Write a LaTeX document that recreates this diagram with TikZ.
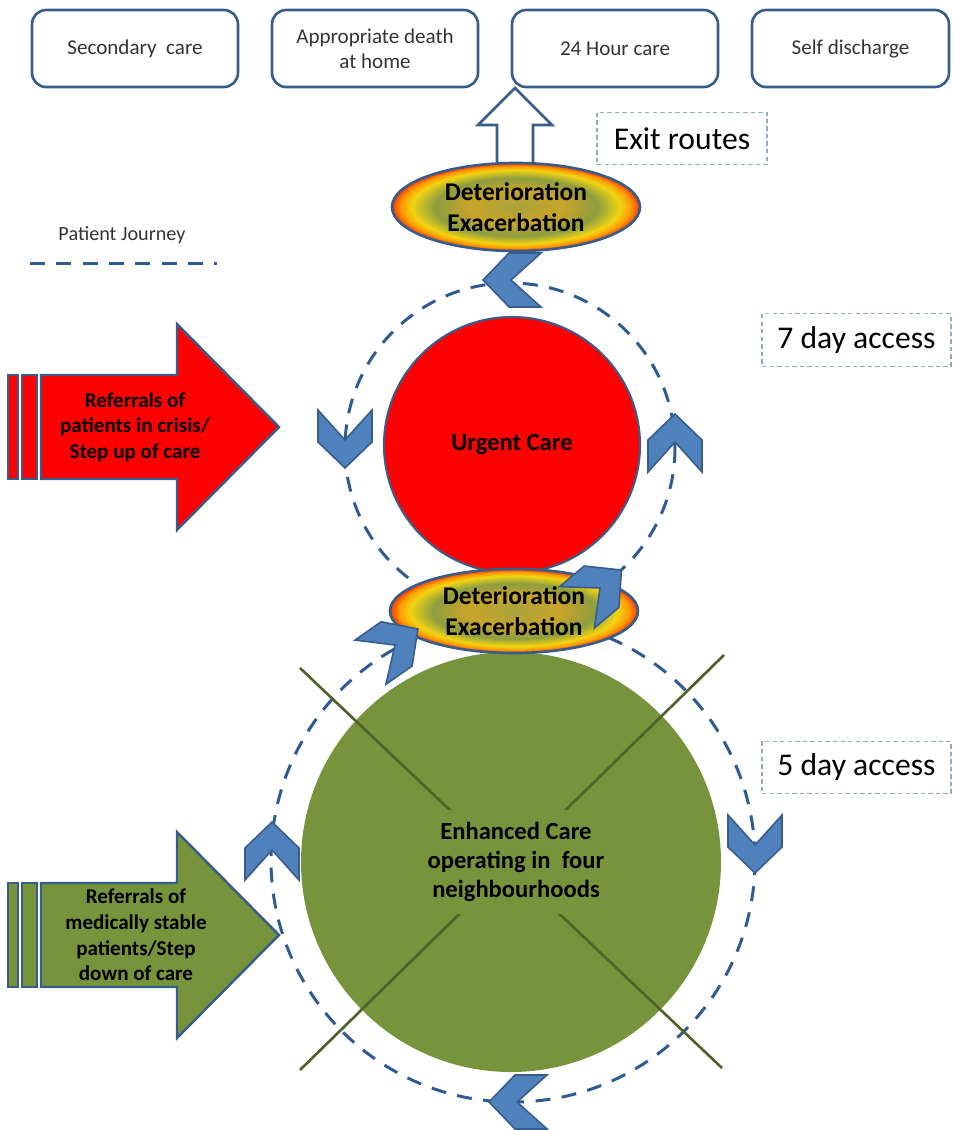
\documentclass[tikz,border=0pt]{standalone}
\usepackage{fontspec}
\setmainfont{Carlito}
\usepackage{tikz}
\usetikzlibrary{calc}
\usepackage{xcolor}
\definecolor{outlineblue}{HTML}{385D8A}
\definecolor{chevblue}{HTML}{4F81BD}
\definecolor{pathblue}{HTML}{2E5A96}
\definecolor{tagblue}{HTML}{8FA8CC}
\definecolor{urgentred}{HTML}{FF0000}
\definecolor{enhgreen}{HTML}{77933C}
\definecolor{crossgreen}{HTML}{4F6228}
\definecolor{detolive}{HTML}{A9A23A}
\definecolor{detgold}{HTML}{C9A42A}
\definecolor{detgreen}{HTML}{8E9E40}
\definecolor{detyellow}{HTML}{F2D412}
\definecolor{detorange}{HTML}{FF9A00}
\definecolor{detred}{HTML}{FF2A00}
\pgfdeclareradialshading{deterioration}{\pgfpoint{0bp}{0bp}}{%
  color(0bp)=(detolive); color(9.5bp)=(detgold); color(16.5bp)=(detgreen);
  color(21bp)=(detyellow); color(23.2bp)=(detorange); color(25.2bp)=(detred);
  color(50bp)=(detred)}
\newcommand{\chevron}[3]{%
  \draw[chev, shift={(#1,#2)}, rotate=#3]
    (-27,-30) -- (0,0) -- (27,-30) -- (27,2) -- (0,28) -- (-27,2) -- cycle;
}
\newcommand{\referral}[2]{%
  \foreach \bx/\bw in {8/10,22/15}{%
    \draw[refarrow, fill=#2] (\bx,{#1-52}) rectangle ({\bx+\bw},{#1+52});
  }%
  \draw[refarrow, fill=#2] (41,{#1-52}) -- (177,{#1-52}) -- (177,{#1-103})
    -- (279,#1) -- (177,{#1+103}) -- (177,{#1+52}) -- (41,{#1+52}) -- cycle;
}

\begin{document}
\begin{tikzpicture}[x=0.02cm, y=-0.02cm,
  exitbox/.style={draw=outlineblue, line width=1.5pt, rounded corners=8pt,
    minimum width=4.12cm, minimum height=1.54cm, align=center,
    font=\fontsize{12}{14.5}\selectfont, text=black!80},
  tagbox/.style={draw=tagblue, line width=0.8pt, dash pattern=on 2.5pt off 1.8pt,
    minimum height=1.05cm, font=\fontsize{18}{21}\selectfont},
  journey/.style={draw=pathblue, line width=1.7pt, dash pattern=on 8.5pt off 6.5pt},
  chev/.style={fill=chevblue, draw=outlineblue, line width=0.9pt},
  refarrow/.style={draw=outlineblue, line width=1.4pt},
  reftext/.style={align=center, font=\fontsize{12}{14.6}\selectfont\bfseries},
  caretext/.style={align=center, font=\fontsize{14}{16.5}\selectfont\bfseries},
  dettext/.style={align=center, font=\fontsize{14.5}{17.5}\selectfont\bfseries}]

  \useasboundingbox (0,0) rectangle (953,1130);

  % exit routes
  \node[exitbox] (secondary) at (135,48.5) {Secondary~ care};
  \node[exitbox] (deathhome) at (375,48.5) {Appropriate death\\at home};
  \node[exitbox] (hourcare) at (615,48.5) {24 Hour care};
  \node[exitbox, minimum width=3.94cm] (selfdis) at (850.5,48.5) {Self discharge};
  \draw[fill=white, draw=outlineblue, line width=1.5pt]
    (497,165) -- (497,125) -- (478,125) -- (515,88) -- (552,125) -- (533,125) -- (533,165) -- cycle;
  \node[tagbox, minimum width=3.4cm] (exitlbl) at (682,138.5) {Exit routes};
  \node[tagbox, minimum width=3.78cm] (sevenday) at (856.5,340) {7 day access};
  \node[tagbox, minimum width=3.78cm] (fiveday) at (856.5,767.5) {5 day access};

  % legend
  \node[font=\fontsize{11.5}{14}\selectfont, text=black!80] (legend) at (122,235) {Patient Journey};
  \coordinate (legA) at (30,263);
  \coordinate (legB) at (217,263);
  \draw[journey] (legA) -- (legB);

  % journeys
  \draw[journey] (510,448) circle (165);
  \draw[journey] (513,860) circle (242);

  \draw[fill=urgentred, draw=outlineblue, line width=1.2pt] (512,445) circle (128);
  \node[caretext] (urgent) at (512,445) {Urgent Care};

  \fill[enhgreen] (511,862) circle (210);
  \draw[crossgreen, line width=1.5pt] (300,668) -- (722,1068);
  \draw[crossgreen, line width=1.5pt] (724,655) -- (300,1070);
  \node[caretext, fill=enhgreen, inner sep=7pt] (enhanced) at (516,862)
    {Enhanced Care\\operating in~ four\\neighbourhoods};

  \shadedraw[shading=deterioration, draw=outlineblue, line width=1.5pt] (516,207) ellipse (124 and 44);
  \node[dettext] (detupper) at (516,207) {Deterioration\\Exacerbation};
  \shadedraw[shading=deterioration, draw=outlineblue, line width=1.5pt] (514,611) ellipse (124 and 42);
  \node[dettext] (detlower) at (514,611) {Deterioration\\Exacerbation};

  \chevron{511}{280}{-90}
  \chevron{345}{440}{0}
  \chevron{675}{442}{180}
  \chevron{600}{588}{130}
  \chevron{395}{645}{125}
  \chevron{272}{850}{180}
  \chevron{755}{845}{0}
  \chevron{517}{1102}{-90}

  % referrals
  \referral{427}{urgentred}
  \node[reftext] (stepup) at (135,427) {Referrals of\\patients in crisis/\\Step up of care};
  \referral{935}{enhgreen}
  \node[reftext] (stepdown) at (136,935) {Referrals of\\medically stable\\patients/Step\\down of care};
\end{tikzpicture}
\end{document}
